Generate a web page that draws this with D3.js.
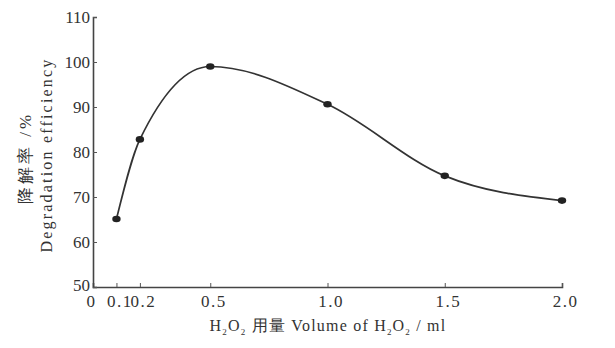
<!DOCTYPE html>
<html>
<head>
<meta charset="utf-8">
<script src="https://cdn.jsdelivr.net/npm/d3@7"></script>
<style>
  body { margin: 0; background: #fff; }
  svg text { font-family: 'Liberation Serif', 'DejaVu Serif', serif; fill: #333; }
</style>
</head>
<body>
<svg></svg>
<script>
let volumes = [0.1, 0.2, 0.5, 1.0, 1.5, 2.0]
let efficiency = [65.1, 82.8, 99.0, 90.6, 74.7, 69.2]

let xTicks = [0, 0.1, 0.2, 0.5, 1.0, 1.5, 2.0]
let xTickLabels = ['0', '0.1', '0.2', '0.5', '1.0', '1.5', '2.0']
let yTicks = [50, 60, 70, 80, 90, 100, 110]

let width = 615
let height = 348
let serif = "'Liberation Serif', 'DejaVu Serif', serif"

let svg = d3.select('svg')
  .attr('width', width)
  .attr('height', height)

let xScale = d3.scaleLinear().domain([0, 2]).range([93, 562])
let yScale = d3.scaleLinear().domain([50, 110]).range([287, 17])

let xAxis = d3.axisBottom(xScale)
  .tickValues(xTicks)
  .tickSize(-4)
  .tickPadding(8)
  .tickFormat((d, i) => xTickLabels[i])

let yAxis = d3.axisLeft(yScale)
  .tickValues(yTicks)
  .tickSize(-4)
  .tickPadding(3)

let gx = svg.append('g')
  .attr('transform', 'translate(0,' + yScale(50) + ')')
  .attr('font-family', serif)
  .call(xAxis)

gx.select('.domain').attr('stroke', '#444').attr('stroke-width', 1.6)
gx.selectAll('.tick line').attr('stroke', '#555')
gx.selectAll('.tick text')
  .attr('font-family', serif)
  .style('font-size', '17px')
  .attr('letter-spacing', '1.5px')
  .attr('dx', (d) => d === 0 ? -2 : 3)

let gy = svg.append('g')
  .attr('transform', 'translate(' + xScale(0) + ',0)')
  .attr('font-family', serif)
  .call(yAxis)

gy.select('.domain').attr('stroke', '#444').attr('stroke-width', 1.6)
gy.selectAll('.tick line').attr('stroke', '#555')
gy.selectAll('.tick text')
  .attr('font-family', serif)
  .style('font-size', '17px')
  .attr('dy', (d) => d === 50 ? '0.2em' : '0.32em')

let points = volumes.map((v, i) => [v, efficiency[i]])

let line = d3.line()
  .x((d) => xScale(d[0]))
  .y((d) => yScale(d[1]))
  .curve(d3.curveMonotoneX)

svg.append('path')
  .datum(points)
  .attr('d', line)
  .attr('fill', 'none')
  .attr('stroke', '#333')
  .attr('stroke-width', 1.7)

svg.selectAll('.dot')
  .data(points)
  .enter()
  .append('ellipse')
  .attr('class', 'dot')
  .attr('cx', (d) => xScale(d[0]))
  .attr('cy', (d) => yScale(d[1]))
  .attr('rx', 4.2)
  .attr('ry', 3.3)
  .attr('fill', '#222')

// x axis title
let xt = svg.append('text')
  .attr('x', 328)
  .attr('y', 331)
  .attr('text-anchor', 'middle')
  .attr('letter-spacing', '1.2px')
  .style('font-size', '16px')
xt.append('tspan').text('H')
xt.append('tspan').text('2').attr('dy', 4).style('font-size', '9px')
xt.append('tspan').text('O').attr('dy', -4)
xt.append('tspan').text('2').attr('dy', 4).style('font-size', '9px')
xt.append('tspan').text(' 用量 Volume of H').attr('dy', -4)
xt.append('tspan').text('2').attr('dy', 4).style('font-size', '9px')
xt.append('tspan').text('O').attr('dy', -4)
xt.append('tspan').text('2').attr('dy', 4).style('font-size', '9px')
xt.append('tspan').text(' / ml').attr('dy', -4)

// y axis title
svg.append('text')
  .attr('transform', 'translate(31,158) rotate(-90)')
  .attr('text-anchor', 'middle')
  .attr('letter-spacing', '3px')
  .style('font-size', '17px')
  .text('降解率 /%')

svg.append('text')
  .attr('transform', 'translate(52,155) rotate(-90)')
  .attr('text-anchor', 'middle')
  .attr('letter-spacing', '2.2px')
  .style('font-size', '16px')
  .text('Degradation efficiency')
</script>
</body>
</html>
